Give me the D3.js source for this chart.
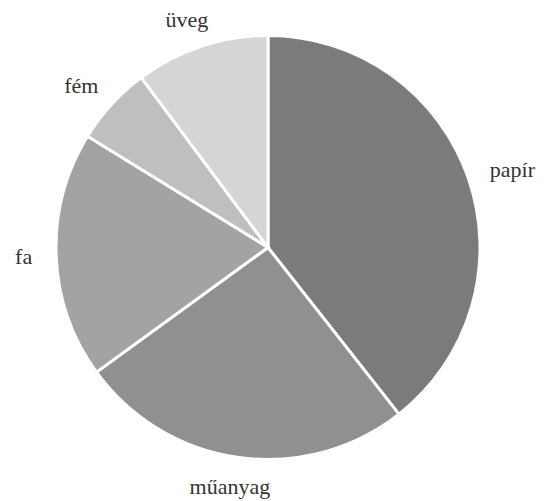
<!DOCTYPE html>
<html>
<head>
<meta charset="utf-8">
<script src="https://cdn.jsdelivr.net/npm/d3@7"></script>
<style>
html,body{margin:0;padding:0;background:#fff;}
svg{display:block;}
.lbl{font-family:"Liberation Serif","Times New Roman",Times,serif;}
</style>
</head>
<body>
<svg id="chart" width="544" height="501"></svg>
<script>
const categories = ["papír", "műanyag", "fa", "fém", "üveg"];
const values = [39.4, 25.6, 18.8, 6.0, 10.2];
const colors = ["#7b7b7b", "#909090", "#a3a3a3", "#bfbfbf", "#d5d5d5"];

const width = 544, height = 501;
const cx = 268, cy = 247.5, radius = 212;
const labelRadius = 236;
const fontSize = 22;

const data = categories.map((c, i) => ({ name: c, value: values[i], color: colors[i] }));

const svg = d3.select("#chart");
const g = svg.append("g").attr("transform", `translate(${cx},${cy})`);

const pie = d3.pie().value(d => d.value).sort(null);
const arc = d3.arc().innerRadius(0).outerRadius(radius);
const arcs = pie(data);

g.selectAll("path.slice")
  .data(arcs)
  .join("path")
  .attr("class", "slice")
  .attr("d", arc)
  .attr("fill", d => d.data.color)
  .attr("stroke", "#fff")
  .attr("stroke-width", 3)
  .attr("stroke-linejoin", "miter");

const labels = g.selectAll("text.lbl")
  .data(arcs)
  .join("text")
  .attr("class", "lbl")
  .attr("font-size", fontSize)
  .attr("fill", "#333")
  .attr("text-anchor", "middle")
  .text(d => d.data.name);

labels.each(function(d) {
  const t = d3.select(this);
  const w = this.getComputedTextLength();
  const a = (d.startAngle + d.endAngle) / 2;
  const s = Math.sin(a), c = Math.cos(a);
  const px = s * labelRadius, py = -c * labelRadius;
  const mx = px + s * w / 2;
  const by = py - c * fontSize * 0.2 + fontSize * 0.36;
  t.attr("x", mx).attr("y", by);
});
</script>
</body>
</html>
